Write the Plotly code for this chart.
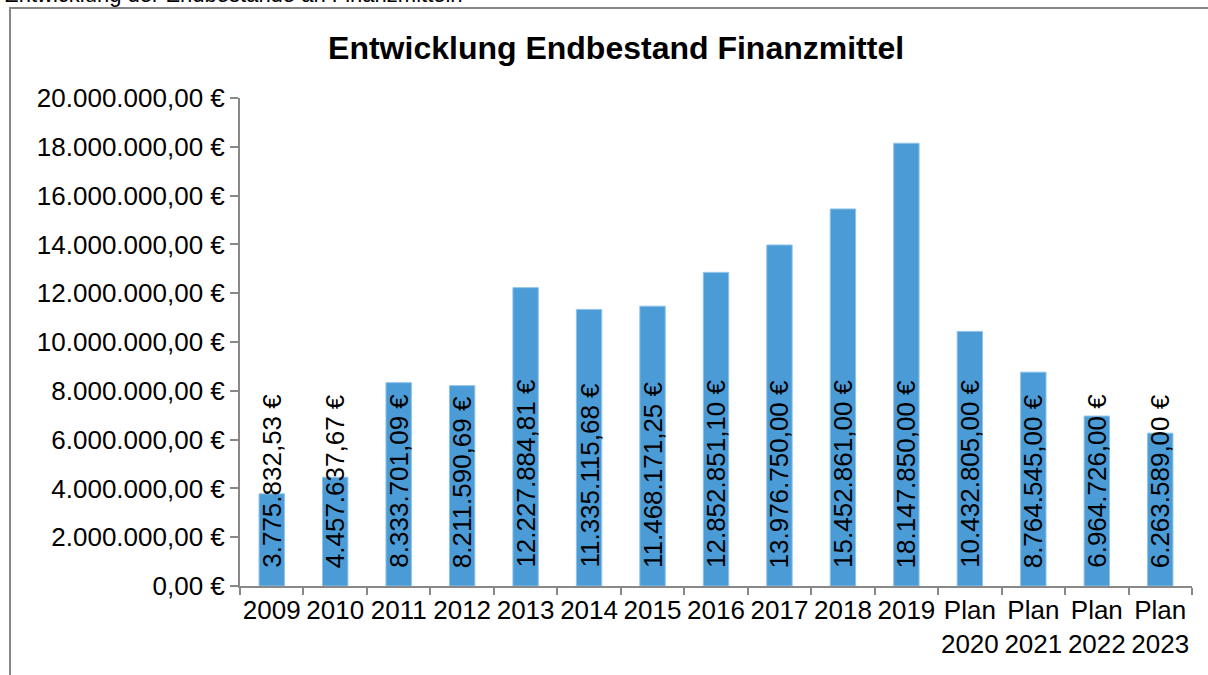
import plotly.graph_objects as go

years = ["2009", "2010", "2011", "2012", "2013", "2014", "2015", "2016", "2017",
         "2018", "2019", "Plan<br>2020", "Plan<br>2021", "Plan<br>2022", "Plan<br>2023"]
bestand = [3775832.53, 4457637.67, 8333701.09, 8211590.69, 12227884.81, 11335115.68,
           11468171.25, 12852851.10, 13976750.00, 15452861.00, 18147850.00,
           10432805.00, 8764545.00, 6964726.00, 6263589.00]
y_ticks = [0, 2e6, 4e6, 6e6, 8e6, 10e6, 12e6, 14e6, 16e6, 18e6, 20e6]


def euro(v):
    s = f"{v:,.2f}".replace(",", "X").replace(".", ",").replace("X", ".")
    return s + " €"


font = "Liberation Sans, Arial, sans-serif"
grey = "#888888"

fig = go.Figure(go.Bar(
    x=years, y=bestand, width=0.4,
    marker=dict(color="#4A9BD6", line=dict(color="#8FC3E8", width=1)),
    hoverinfo="skip",
))

# rotated value labels, starting at the bar base
for i, val in enumerate(bestand):
    fig.add_annotation(x=i, y=0, text=euro(val), textangle=-90,
                       showarrow=False, yanchor="bottom", yshift=16,
                       font=dict(family=font, size=26, color="black"))

# cut-off caption above the chart frame
fig.add_annotation(xref="paper", yref="paper", x=-0.25, y=1.2111,
                   xanchor="left", yanchor="middle", showarrow=False,
                   text="Entwicklung der Endbestände an Finanzmitteln",
                   font=dict(family=font, size=22, color="black"))

# chart frame
fig.add_shape(type="rect", xref="paper", yref="paper",
              x0=-0.2416, x1=1.2, y0=-0.3, y1=1.1844,
              line=dict(color=grey, width=2), layer="below")

fig.update_layout(
    width=1208, height=675,
    margin=dict(l=240, r=16, t=98, b=89),
    paper_bgcolor="white", plot_bgcolor="white",
    showlegend=False,
    font=dict(family=font, size=26, color="black"),
    title=dict(text="<b>Entwicklung Endbestand Finanzmittel</b>",
               xref="container", yref="container", x=0.51, y=0.929,
               xanchor="center", yanchor="middle",
               font=dict(family=font, size=32, color="black")),
    xaxis=dict(type="category", range=[-0.5, len(years) - 0.5], autorange=False,
               showline=True, linecolor=grey, linewidth=2,
               ticks="outside", tickson="boundaries", ticklen=7, tickcolor=grey,
               tickwidth=2, showgrid=False, tickangle=0, tickfont=dict(size=26)),
    yaxis=dict(range=[0, 20e6], autorange=False, tickmode="array", tickvals=y_ticks,
               ticktext=[euro(v) for v in y_ticks],
               showline=True, linecolor=grey, linewidth=2, ticks="outside",
               ticklen=8, tickcolor=grey, tickwidth=2, showgrid=False,
               zeroline=False, tickfont=dict(size=26)),
)

# the page's default 8px body margin would shift the whole chart
fig.write_html("out.html", config={"displayModeBar": False},
               post_script="document.body.style.margin = '0';")
